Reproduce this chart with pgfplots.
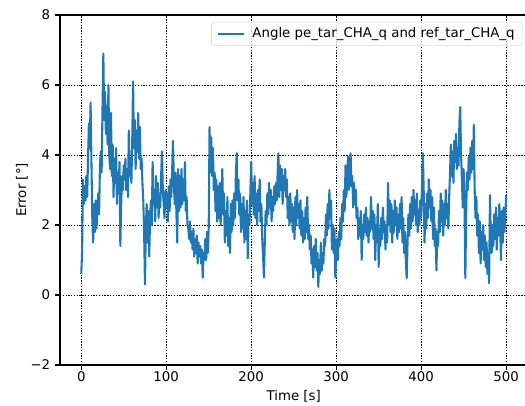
\documentclass[border=0pt]{standalone}
\usepackage{pgfplots}
\pgfplotsset{compat=1.18}
\usepackage{fontspec}
\setmainfont{DejaVu Sans}
\definecolor{mplblue}{HTML}{1F77B4}

\begin{document}
\begin{tikzpicture}
\begin{axis}[
  name=ax,
  scale only axis,
  width=336.5pt, height=252pt,
  xmin=-25, xmax=525, ymin=-2, ymax=8,
  xtick={0,100,...,500},
  ytick={-2,0,...,8},
  yticklabels={−2,0,2,4,6,8},
  xtick pos=bottom, ytick pos=left,
  tick align=outside,
  major tick length=3.5pt,
  every tick/.style={black, line width=0.8pt},
  axis line style={line width=0.8pt},
  /pgf/number format/assume math mode=true,
  tick label style={font=\fontsize{9.6}{11.5}\selectfont},
  xticklabel style={yshift=2pt},
  label style={font=\fontsize{9.6}{11.5}\selectfont},
  xlabel style={yshift=1pt},
  ylabel style={yshift=-5pt},
  grid=major,
  grid style={black, line width=0.6pt, dash pattern=on 1pt off 1pt},
  xlabel={Time [s]},
  ylabel={Error [°]},
  legend style={at={(1,1)}, anchor=north east, xshift=-3pt, yshift=-5pt,
    draw=black!15, rounded corners=2pt, fill=white, fill opacity=0.8, text opacity=1,
    font=\fontsize{9.6}{11.5}\selectfont, inner xsep=4pt, inner ysep=2pt},
  legend cell align=left,
  legend image code/.code={\draw[#1] (0pt,0pt) -- (19pt,0pt); \path (22pt,0pt);},
]
\addplot[mplblue, line width=1.5pt, line join=round] coordinates {
(0,0.6) (1,1.2) (2,3.3) (3,2.6) (4,3.1) (5,2.7) (6,3.4) (7,2.8) (8,3.9) (9,4.9)
(10,4.2) (11,5.5) (12,3.8) (13,2.2) (14,1.5) (15,2.6) (16,1.8) (17,2.7) (18,1.9) (19,2.4)
(20,2.9) (21,2.3) (22,3.7) (23,4.1) (24,3.5) (25,5.3) (26,6.9) (27,5.0) (28,5.8) (29,4.6)
(30,5.4) (31,4.3) (32,6.0) (33,4.0) (34,3.6) (35,5.2) (36,3.4) (37,4.3) (38,2.8) (39,3.9)
(40,3.2) (41,4.2) (42,2.6) (43,3.5) (44,2.9) (45,3.8) (46,1.4) (47,2.6) (48,3.4) (49,3.0)
(50,3.7) (51,3.3) (52,3.9) (53,3.0) (54,3.6) (55,2.8) (56,4.7) (57,3.4) (58,3.9) (59,3.2)
(60,4.4) (61,6.1) (62,4.2) (63,5.0) (64,3.6) (65,4.7) (66,4.1) (67,5.2) (68,3.9) (69,4.8)
(70,3.6) (71,3.9) (72,3.2) (73,2.7) (74,1.8) (75,0.3) (76,1.9) (77,2.6) (78,1.5) (79,2.4)
(80,1.1) (81,2.2) (82,2.7) (83,2.0) (84,3.8) (85,2.6) (86,3.0) (87,2.1) (88,3.4) (89,2.5)
(90,3.2) (91,2.2) (92,2.9) (93,2.5) (94,3.4) (95,4.1) (96,3.0) (97,2.6) (98,2.2) (99,3.0)
(100,2.5) (101,2.9) (102,2.1) (103,3.1) (104,2.4) (105,3.3) (106,2.8) (107,3.6) (108,4.4) (109,3.2)
(110,2.6) (111,3.5) (112,2.3) (113,1.5) (114,3.6) (115,2.4) (116,3.4) (117,2.5) (118,3.6) (119,2.6)
(120,3.3) (121,2.7) (122,3.8) (123,2.4) (124,2.8) (125,2.0) (126,1.9) (127,1.6) (128,2.1) (129,1.5)
(130,1.8) (131,1.3) (132,1.9) (133,1.1) (134,1.6) (135,1.2) (136,1.7) (137,0.9) (138,1.5) (139,1.1)
(140,1.4) (141,0.9) (142,1.3) (143,0.5) (144,1.2) (145,1.0) (146,1.6) (147,1.0) (148,1.8) (149,1.2)
(150,1.9) (151,4.8) (152,3.5) (153,4.5) (154,3.4) (155,4.2) (156,3.0) (157,3.5) (158,2.4) (159,3.3)
(160,2.1) (161,3.1) (162,2.2) (163,3.2) (164,2.0) (165,2.7) (166,3.6) (167,2.3) (168,2.9) (169,1.5)
(170,2.4) (171,1.7) (172,2.8) (173,1.4) (174,2.2) (175,1.2) (176,2.6) (177,1.8) (178,2.7) (179,2.0)
(180,2.9) (181,2.2) (182,3.5) (183,4.05) (184,2.7) (185,3.3) (186,2.3) (187,2.9) (188,1.8) (189,2.6)
(190,1.9) (191,2.8) (192,1.5) (193,2.4) (194,1.6) (195,2.7) (196,1.05) (197,2.3) (198,2.0) (199,2.9)
(200,3.8) (201,2.6) (202,3.2) (203,2.3) (204,3.4) (205,2.2) (206,2.9) (207,2.0) (208,3.0) (209,2.4)
(210,3.3) (211,2.1) (212,2.6) (213,1.6) (214,1.1) (215,0.5) (216,1.5) (217,2.4) (218,2.0) (219,2.9)
(220,2.3) (221,3.2) (222,2.5) (223,3.0) (224,2.1) (225,2.8) (226,2.4) (227,3.1) (228,2.6) (229,3.2)
(230,2.7) (231,3.4) (232,4.05) (233,2.8) (234,3.7) (235,3.0) (236,3.6) (237,2.6) (238,3.4) (239,3.0)
(240,3.6) (241,2.8) (242,3.3) (243,2.2) (244,2.8) (245,2.0) (246,2.9) (247,2.1) (248,2.6) (249,1.8)
(250,2.5) (251,1.6) (252,2.8) (253,2.0) (254,3.0) (255,2.2) (256,2.6) (257,1.9) (258,2.7) (259,1.7)
(260,2.4) (261,1.5) (262,2.2) (263,1.6) (264,2.5) (265,1.8) (266,2.8) (267,1.6) (268,2.0) (269,1.3)
(270,1.7) (271,0.9) (272,1.3) (273,0.5) (274,1.4) (275,0.8) (276,1.6) (277,0.7) (278,1.2) (279,0.23)
(280,1.0) (281,0.6) (282,1.5) (283,0.7) (284,1.2) (285,0.9) (286,1.6) (287,1.4) (288,2.3) (289,1.7)
(290,2.6) (291,1.9) (292,3.0) (293,2.2) (294,2.7) (295,1.3) (296,2.0) (297,1.2) (298,1.9) (299,0.5)
(300,1.1) (301,1.6) (302,1.0) (303,1.8) (304,1.4) (305,2.2) (306,1.6) (307,2.6) (308,2.1) (309,3.0)
(310,2.4) (311,3.7) (312,2.8) (313,3.4) (314,3.95) (315,3.0) (316,3.6) (317,4.05) (318,3.1) (319,3.4)
(320,2.5) (321,3.2) (322,2.6) (323,3.0) (324,2.2) (325,2.5) (326,1.6) (327,2.2) (328,1.7) (329,2.4)
(330,1.0) (331,2.0) (332,1.6) (333,2.3) (334,1.8) (335,2.5) (336,1.7) (337,2.2) (338,1.5) (339,2.1)
(340,1.8) (341,2.8) (342,1.9) (343,2.4) (344,1.6) (345,2.3) (346,1.0) (347,2.0) (348,1.5) (349,2.6)
(350,0.8) (351,1.9) (352,1.4) (353,2.2) (354,1.6) (355,2.5) (356,1.8) (357,2.1) (358,1.3) (359,2.0)
(360,1.5) (361,3.2) (362,2.0) (363,2.7) (364,1.8) (365,2.6) (366,1.5) (367,2.4) (368,1.8) (369,2.7)
(370,2.0) (371,2.5) (372,1.6) (373,2.3) (374,1.8) (375,2.6) (376,1.9) (377,2.8) (378,1.5) (379,2.2)
(380,1.2) (381,1.8) (382,1.0) (383,0.48) (384,1.5) (385,2.3) (386,1.7) (387,2.6) (388,1.9) (389,2.8)
(390,2.1) (391,3.0) (392,2.3) (393,2.7) (394,2.0) (395,2.9) (396,1.8) (397,2.4) (398,2.0) (399,2.7)
(400,2.2) (401,3.1) (402,4.05) (403,3.0) (404,1.5) (405,2.6) (406,1.9) (407,2.9) (408,2.2) (409,3.3)
(410,2.5) (411,3.0) (412,2.1) (413,2.8) (414,1.6) (415,2.5) (416,1.4) (417,1.9) (418,0.7) (419,1.8)
(420,1.4) (421,2.4) (422,1.8) (423,2.9) (424,2.1) (425,2.7) (426,1.7) (427,2.6) (428,2.0) (429,3.0)
(430,2.2) (431,2.6) (432,1.9) (433,2.8) (434,3.5) (435,4.3) (436,3.4) (437,4.1) (438,3.2) (439,4.4)
(440,3.8) (441,4.6) (442,3.6) (443,4.2) (444,3.7) (445,4.9) (446,5.37) (447,4.0) (448,3.3) (449,2.5)
(450,3.6) (451,2.7) (452,0.48) (453,2.4) (454,3.5) (455,3.0) (456,3.95) (457,3.3) (458,4.2) (459,3.5)
(460,4.4) (461,3.6) (462,4.86) (463,3.0) (464,2.2) (465,2.8) (466,1.7) (467,2.3) (468,1.2) (469,2.1)
(470,0.9) (471,1.8) (472,1.3) (473,2.0) (474,1.0) (475,1.7) (476,0.8) (477,1.5) (478,0.6) (479,1.2)
(480,0.34) (481,2.85) (482,1.6) (483,1.2) (484,2.0) (485,1.4) (486,2.3) (487,1.6) (488,2.5) (489,1.3)
(490,2.2) (491,1.7) (492,2.6) (493,1.9) (494,1.0) (495,2.4) (496,1.5) (497,2.5) (498,1.8) (499,2.2)
(500,2.85)
};
\addlegendentry{Angle pe\_tar\_CHA\_q and ref\_tar\_CHA\_q}
\end{axis}
\pgfresetboundingbox
\path[use as bounding box] ([xshift=-43.2pt,yshift=-29.5pt]ax.south west) rectangle ([xshift=-1.7pt,yshift=10.8pt]ax.north east);
\end{tikzpicture}
\end{document}
